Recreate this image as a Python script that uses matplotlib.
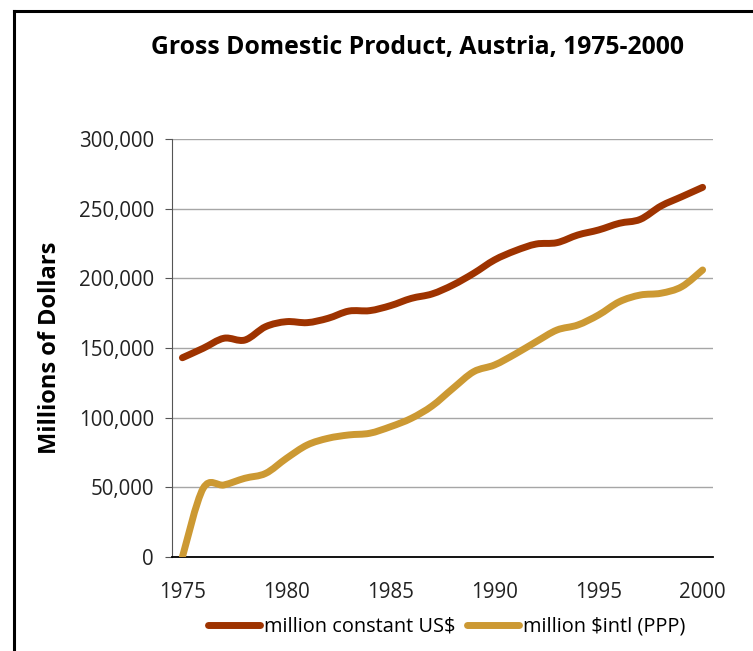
import matplotlib
matplotlib.use("Agg")
import matplotlib.pyplot as plt
from matplotlib.path import Path
from matplotlib.patches import PathPatch
from matplotlib.lines import Line2D
from matplotlib.ticker import FuncFormatter

# data
years = list(range(1975, 2001))
gdp_const_usd = [143000, 149800, 157000, 155700, 165300, 168900, 168200, 171300,
                 176500, 176800, 180400, 185600, 188800, 195200, 203600, 213200,
                 219800, 224600, 225600, 231100, 234700, 239500, 242300, 251900,
                 258600, 265300]
gdp_ppp = [0, 49300, 51700, 56500, 60000, 70800, 80400, 85200, 87600, 88800,
           93500, 99500, 108400, 121000, 133000, 137800, 145700, 154500, 162900,
           166500, 173700, 183200, 188000, 189300, 194000, 206000]
labels = ["million constant US$", "million $intl (PPP)"]
colors = ["#9E3300", "#CC9933"]

plt.rcParams["font.family"] = ["Open Sans", "DejaVu Sans"]


def smooth_path(xs, ys):
    # excel-like smoothed line: catmull-rom turned into bezier segments
    verts = [(xs[0], ys[0])]
    codes = [Path.MOVETO]
    n = len(xs)
    for i in range(n - 1):
        x0, y0 = xs[max(i - 1, 0)], ys[max(i - 1, 0)]
        x1, y1 = xs[i], ys[i]
        x2, y2 = xs[i + 1], ys[i + 1]
        x3, y3 = xs[min(i + 2, n - 1)], ys[min(i + 2, n - 1)]
        c1 = (x1 + (x2 - x0) / 6, y1 + (y2 - y0) / 6)
        c2 = (x2 - (x3 - x1) / 6, y2 - (y3 - y1) / 6)
        verts += [c1, c2, (x2, y2)]
        codes += [Path.CURVE4] * 3
    return Path(verts, codes)


fig = plt.figure(figsize=(7.53, 6.51), dpi=100)
ax = fig.add_axes([0.2284, 0.1444, 0.7185, 0.6421])

pos = list(range(len(years)))
for series, col in zip([gdp_const_usd, gdp_ppp], colors):
    patch = PathPatch(smooth_path(pos, series), facecolor="none", edgecolor=col,
                      lw=5, capstyle="round", joinstyle="round", zorder=3)
    ax.add_patch(patch)

ax.set_xlim(-0.5, len(years) - 0.5)
ax.set_ylim(0, 300000)
ax.set_yticks(range(0, 300001, 50000))
ax.yaxis.set_major_formatter(FuncFormatter(lambda v, p: f"{int(v):,}"))
ax.set_xticks(pos[::5])
ax.set_xticklabels([str(y) for y in years[::5]])

ax.grid(axis="y", color="#a6a6a6", lw=1)
ax.set_axisbelow(True)
for s in ["top", "right"]:
    ax.spines[s].set_visible(False)
ax.spines["left"].set_color("#555555")
ax.spines["bottom"].set_color("black")
ax.spines["bottom"].set_linewidth(1.3)
ax.tick_params(axis="y", direction="out", length=5, color="#555555", pad=8,
               labelsize=14.8, labelcolor="#222222")
ax.tick_params(axis="x", length=0, pad=18, labelsize=14.8, labelcolor="#222222")

ax.set_ylabel("Millions of Dollars", fontsize=17, fontweight="bold", labelpad=12)
fig.text(0.555, 0.927, "Gross Domestic Product, Austria, 1975-2000",
         ha="center", va="center", fontsize=17.8, fontweight="bold")

handles = [Line2D([], [], color=c, lw=5, solid_capstyle="round") for c in colors]
fig.legend(handles, labels, loc="center", bbox_to_anchor=(0.593, 0.037), ncol=2,
           frameon=False, fontsize=14.4, handlelength=2.6, handletextpad=0.2,
           columnspacing=0.6)

# frame (left and top edges only)
fig.add_artist(Line2D([0.018, 0.018], [0, 0.983], color="black", lw=2.2,
                      transform=fig.transFigure))
fig.add_artist(Line2D([0.018, 1], [0.983, 0.983], color="black", lw=2.2,
                      transform=fig.transFigure))

fig.savefig("out.png", dpi=100)
